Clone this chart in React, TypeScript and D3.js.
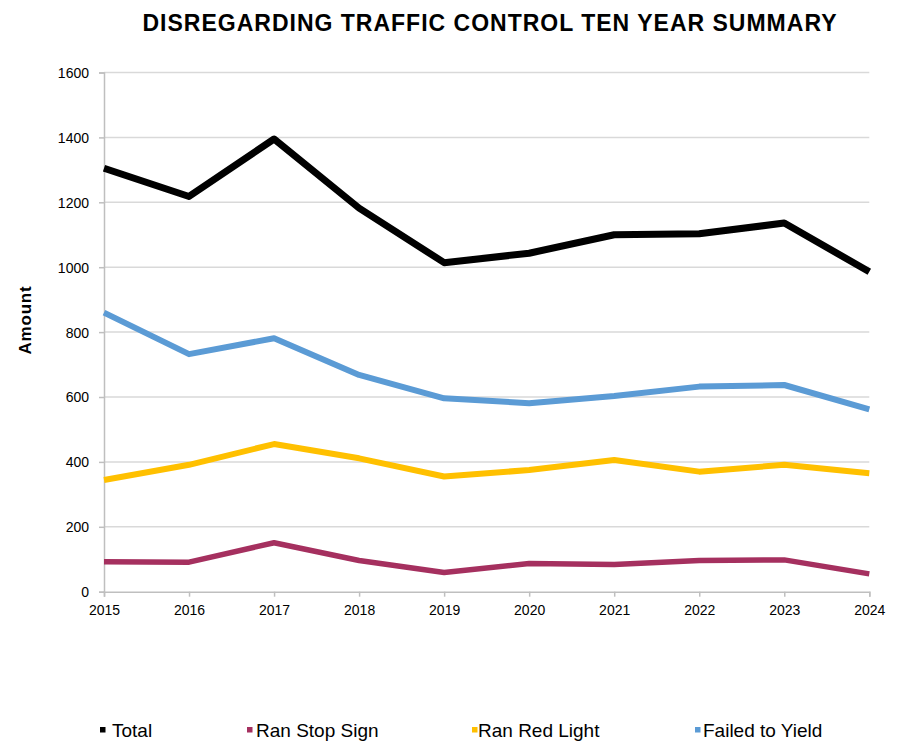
import { useEffect, useRef } from "react";
import * as d3 from "d3";

const years = [2015, 2016, 2017, 2018, 2019, 2020, 2021, 2022, 2023, 2024];
const total = [1305, 1218, 1395, 1182, 1014, 1043, 1100, 1103, 1136, 986];
const ranStopSign = [92, 91, 151, 96, 59, 87, 84, 96, 98, 55];
const ranRedLight = [344, 391, 455, 411, 355, 375, 406, 370, 391, 365];
const failedToYield = [860, 732, 781, 668, 596, 581, 603, 632, 637, 562];
const yTicks = [0, 200, 400, 600, 800, 1000, 1200, 1400, 1600];

const series = [
  { name: "Total", values: total, color: "#000000", width: 7 },
  { name: "Ran Stop Sign", values: ranStopSign, color: "#A5305F", width: 5.5 },
  { name: "Ran Red Light", values: ranRedLight, color: "#FFC000", width: 6 },
  { name: "Failed to Yield", values: failedToYield, color: "#5B9BD5", width: 6 },
];

const FONT = "Liberation Sans, Arial, sans-serif";

const App = () => {
  const svgRef = useRef(null);

  useEffect(() => {
    const width = 909;
    const height = 741;
    const margin = { top: 72.5, right: 39.7, bottom: 149.3, left: 104 };
    const svg = d3.select(svgRef.current);
    svg.selectAll("*").remove();
    svg.attr("width", width).attr("height", height);

    const x = d3
      .scaleLinear()
      .domain([years[0], years[years.length - 1]])
      .range([margin.left, width - margin.right]);
    const y = d3
      .scaleLinear()
      .domain([0, 1600])
      .range([height - margin.bottom, margin.top]);

    svg
      .append("rect")
      .attr("width", width)
      .attr("height", height)
      .attr("fill", "#fff");

    // title
    svg
      .append("text")
      .attr("x", 490)
      .attr("y", 31)
      .attr("text-anchor", "middle")
      .attr("font-family", FONT)
      .attr("font-weight", "bold")
      .attr("font-size", "23px")
      .attr("letter-spacing", "1px")
      .text("DISREGARDING TRAFFIC CONTROL TEN YEAR SUMMARY");

    // gridlines
    svg
      .append("g")
      .selectAll("line")
      .data(yTicks.filter((t) => t > 0))
      .enter()
      .append("line")
      .attr("x1", margin.left)
      .attr("x2", width - margin.right)
      .attr("y1", (d) => y(d))
      .attr("y2", (d) => y(d))
      .attr("stroke", "#d9d9d9")
      .attr("stroke-width", 1.5);

    const yAxis = d3
      .axisLeft(y)
      .tickValues(yTicks)
      .tickSize(5)
      .tickPadding(10)
      .tickFormat(d3.format("d"));
    const gy = svg
      .append("g")
      .attr("transform", `translate(${margin.left},0)`)
      .call(yAxis as any);

    const xAxis = d3
      .axisBottom(x)
      .tickValues(years)
      .tickSize(5)
      .tickPadding(8)
      .tickFormat(d3.format("d"));
    const gx = svg
      .append("g")
      .attr("transform", `translate(0,${y(0)})`)
      .call(xAxis as any);

    [gx, gy].forEach((g) => {
      g.select(".domain").attr("stroke", "#bfbfbf").attr("stroke-width", 1.5);
      g.selectAll(".tick line")
        .attr("stroke", "#bfbfbf")
        .attr("stroke-width", 1.5);
      g.selectAll(".tick text")
        .attr("fill", "#000")
        .attr("font-family", FONT)
        .attr("font-size", "14px");
    });
    gy.selectAll(".tick text").attr("dy", "0.35em");

    svg
      .append("text")
      .attr("transform", `translate(31,320) rotate(-90)`)
      .attr("text-anchor", "middle")
      .attr("font-family", FONT)
      .attr("font-weight", "bold")
      .attr("font-size", "17px")
      .attr("letter-spacing", "0.8px")
      .text("Amount");

    const line = d3
      .line<number>()
      .x((_, i) => x(years[i]))
      .y((d) => y(d));

    series
      .slice()
      .reverse()
      .forEach((s) => {
        svg
          .append("path")
          .attr("d", line(s.values))
          .attr("fill", "none")
          .attr("stroke", s.color)
          .attr("stroke-width", s.width)
          .attr("stroke-linejoin", "round");
      });

    // legend
    const legendX = [100, 247, 472, 695];
    const legendTextX = [112, 256, 478, 703];
    const legend = svg
      .append("g")
      .selectAll("g")
      .data(series)
      .enter()
      .append("g");
    legend
      .append("rect")
      .attr("x", (_, i) => legendX[i])
      .attr("y", 727)
      .attr("width", 5.5)
      .attr("height", 5.5)
      .attr("fill", (d) => d.color);
    legend
      .append("text")
      .attr("x", (_, i) => legendTextX[i])
      .attr("y", 737)
      .attr("font-family", FONT)
      .attr("font-size", "19px")
      .text((d) => d.name);
  }, []);

  return (
    <svg
      ref={svgRef}
      style={{ position: "absolute", left: 0, top: 0 }}
    ></svg>
  );
};

export default App;
